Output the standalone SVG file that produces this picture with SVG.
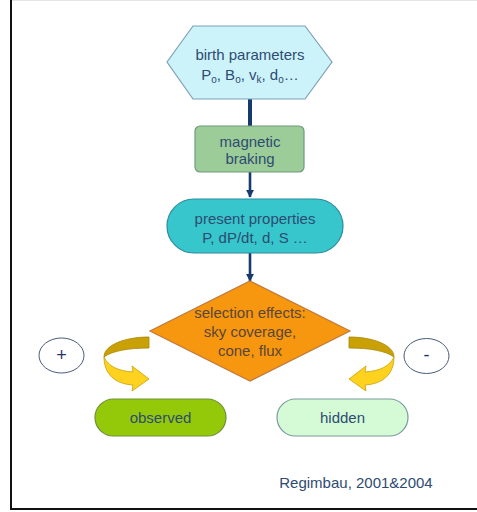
<svg xmlns="http://www.w3.org/2000/svg" width="477" height="512" viewBox="0 0 477 512">
<style>
  text { font-family: "Liberation Sans", Arial, sans-serif; font-size: 15px; fill: #2e4b72; text-anchor: middle; }
  .dia { fill: #5a4636; }
  .conn { stroke: #163a6c; fill: none; }
  .sub { font-size: 10px; }
  .band-dark { fill: #c9a106; stroke: #a88500; stroke-width: 0.8; }
  .band-light { fill: #ffd21f; stroke: #c8a000; stroke-width: 0.8; }
</style>
<defs>
  <marker id="ah" viewBox="0 0 10 10" refX="9" refY="5" markerWidth="3.2" markerHeight="3.2" orient="auto" markerUnits="strokeWidth">
    <path d="M0,0 L10,5 L0,10 Z" fill="#163a6c"/>
  </marker>
  <g id="curl">
    <path class="band-dark" d="M149,337 L149,348 C128,348 112,351 104,357 C104,345 125,337 149,337 Z"/>
    <path class="band-light" d="M104,357 C108,366 118,371 133,372 L132,366 L149,379 L132,391 L133,385 C115,384 104,374 104,357 Z"/>
  </g>
</defs>
<rect x="0" y="0" width="477" height="512" fill="#ffffff"/>
<line x1="11" y1="0.5" x2="477" y2="0.5" stroke="#e4e4e4" stroke-width="1"/>
<line x1="11" y1="0" x2="11" y2="510" stroke="#111" stroke-width="2"/>
<line x1="10" y1="509" x2="477" y2="509" stroke="#111" stroke-width="2"/>

<g id="connectors">
  <line class="conn" x1="250" y1="99" x2="250" y2="126" stroke-width="4"/>
  <line class="conn" x1="250" y1="172" x2="250" y2="197" stroke-width="2.6" marker-end="url(#ah)"/>
  <line class="conn" x1="250" y1="253" x2="250" y2="281" stroke-width="2.6" marker-end="url(#ah)"/>
  <use href="#curl"/>
  <use href="#curl" transform="translate(498,0) scale(-1,1)"/>
</g>

<g id="birth">
  <polygon points="167,62 193,26 305,26 332,62 305,99 193,99" fill="#cdf3fa" stroke="#7d9fb5" stroke-width="1.2"/>
  <text x="250" y="60">birth parameters</text>
  <text x="250" y="80">P<tspan class="sub" dy="3">o</tspan><tspan dy="-3">, B</tspan><tspan class="sub" dy="3">o</tspan><tspan dy="-3">, v</tspan><tspan class="sub" dy="3">k</tspan><tspan dy="-3">, d</tspan><tspan class="sub" dy="3">o</tspan><tspan dy="-3">…</tspan></text>
</g>

<g id="braking">
  <rect x="195" y="126" width="109" height="46" rx="5" fill="#9ccc98" stroke="#6d9a7e" stroke-width="1.2"/>
  <text x="250" y="147">magnetic</text>
  <text x="250" y="164">braking</text>
</g>

<g id="present">
  <rect x="167" y="199" width="176" height="54" rx="27" fill="#36c6cc" stroke="#2b8c9e" stroke-width="1.2"/>
  <text x="255" y="224">present properties</text>
  <text x="255" y="243">P, dP/dt, d, S …</text>
</g>

<g id="selection">
  <polygon points="250,281 350,331 250,381 150,331" fill="#f7960f" stroke="#c07a3a" stroke-width="1.2"/>
  <text class="dia" x="250" y="318">selection effects:</text>
  <text class="dia" x="250" y="337">sky coverage,</text>
  <text class="dia" x="250" y="356">cone, flux</text>
</g>

<g id="plus">
  <ellipse cx="61.5" cy="355.5" rx="22.5" ry="17.5" fill="#ffffff" stroke="#4a5a78" stroke-width="1"/>
  <text x="61.5" y="361" style="fill:#1f3566;font-size:18px">+</text>
</g>

<g id="minus">
  <ellipse cx="426.5" cy="356" rx="22.5" ry="17.5" fill="#ffffff" stroke="#4a5a78" stroke-width="1"/>
  <text x="426.5" y="361" style="fill:#1f3566;font-size:18px">-</text>
</g>

<g id="observed">
  <rect x="95" y="399" width="131" height="37" rx="18.5" fill="#94c90a" stroke="#6e8f3a" stroke-width="1.2"/>
  <text x="160.5" y="423">observed</text>
</g>

<g id="hidden">
  <rect x="277" y="399" width="131" height="37" rx="18.5" fill="#d4fbd6" stroke="#7a9a9e" stroke-width="1.2"/>
  <text x="342.5" y="423">hidden</text>
</g>

<text x="356" y="488">Regimbau, 2001&amp;2004</text>
</svg>
